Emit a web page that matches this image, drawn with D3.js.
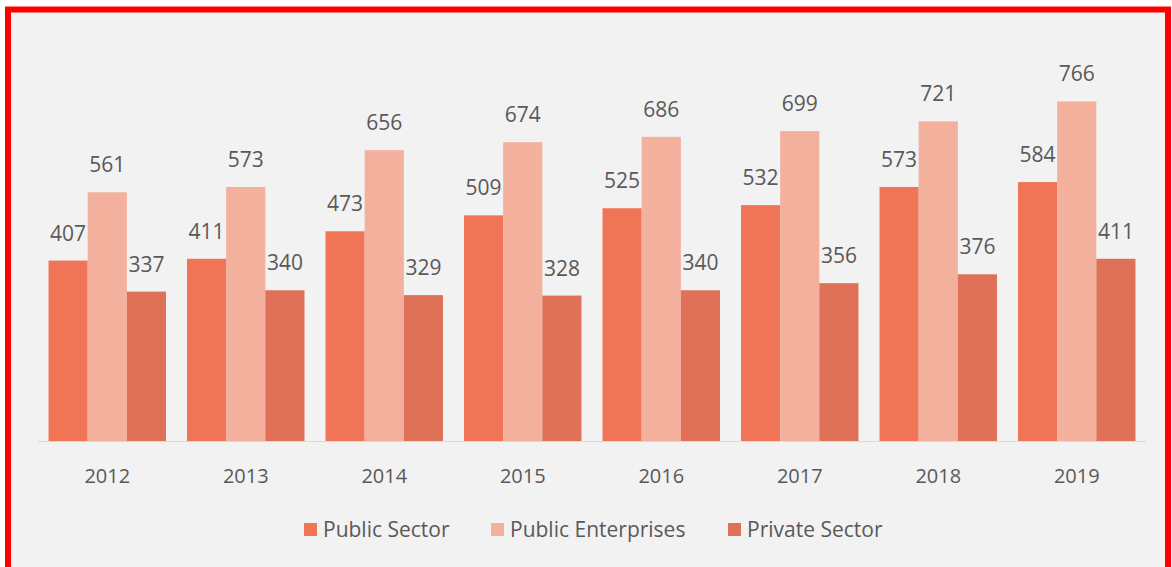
<!DOCTYPE html>
<html>
<head>
<meta charset="utf-8">
<script src="https://cdn.jsdelivr.net/npm/d3@7"></script>
<style>
  html, body { margin: 0; padding: 0; background: #ffffff; }
  svg { display: block; }
</style>
</head>
<body>
<svg id="chart" width="1172" height="567"></svg>
<script>
// Employment by sector, 2012–2019
const years = ["2012", "2013", "2014", "2015", "2016", "2017", "2018", "2019"];
const seriesNames = ["Public Sector", "Public Enterprises", "Private Sector"];
const publicSector = [407, 411, 473, 509, 525, 532, 573, 584];
const publicEnterprises = [561, 573, 656, 674, 686, 699, 721, 766];
const privateSector = [337, 340, 329, 328, 340, 356, 376, 411];
const seriesColors = ["#ef7556", "#f3b09c", "#df7159"];

const seriesValues = [publicSector, publicEnterprises, privateSector];

const svg = d3.select("#chart");

// Frame: grey panel with red outline (bottom edge runs off the canvas)
svg.append("rect").attr("x", 8).attr("y", 9.5).attr("width", 1160).attr("height", 570)
  .attr("fill", "#f2f2f2").attr("stroke", "#ff0000").attr("stroke-width", 6);

const plot = { left: 38, right: 1146, top: 40, bottom: 441 };
const font = "'Open Sans', sans-serif";
const textColor = "#595959";

const x0 = d3.scaleBand().domain(years)
  .range([plot.left, plot.right]).paddingInner(0.152).paddingOuter(0.076);
const x1 = d3.scaleBand().domain(seriesNames).range([0, x0.bandwidth()]).padding(0);
const y = d3.scaleLinear().domain([0, 900]).range([plot.bottom, plot.bottom - 399]);
const color = d3.scaleOrdinal().domain(seriesNames).range(seriesColors);

// Baseline
svg.append("line")
  .attr("x1", plot.left).attr("x2", plot.right)
  .attr("y1", y(0) + 0.5).attr("y2", y(0) + 0.5)
  .attr("stroke", "#d9d9d9").attr("stroke-width", 1);

// Bars and value labels, drawn series by series
seriesNames.forEach((name, si) => {
  const g = svg.append("g");
  const data = years.map((yr, i) => ({ year: yr, value: seriesValues[si][i] }));
  g.selectAll("rect").data(data).join("rect")
    .attr("x", d => x0(d.year) + x1(name))
    .attr("y", d => y(d.value))
    .attr("width", x1.bandwidth())
    .attr("height", d => y(0) - y(d.value))
    .attr("fill", color(name));
  g.selectAll("text").data(data).join("text")
    .attr("x", d => x0(d.year) + x1(name) + x1.bandwidth() / 2)
    .attr("y", d => y(d.value) - 20)
    .attr("text-anchor", "middle")
    .attr("font-family", font)
    .attr("font-size", 21)
    .attr("fill", textColor)
    .text(d => d.value);
});

// Category axis
const xAxis = svg.append("g").attr("transform", `translate(0,${y(0)})`)
  .call(d3.axisBottom(x0).tickSize(0).tickPadding(0));
xAxis.select(".domain").remove();
xAxis.selectAll("text")
  .attr("y", 42)
  .attr("dy", 0)
  .attr("font-family", font)
  .attr("font-size", 20)
  .attr("fill", textColor);

// Legend
const legendItems = [
  { name: seriesNames[0], x: 304 },
  { name: seriesNames[1], x: 491 },
  { name: seriesNames[2], x: 728 }
];
const legend = svg.append("g");
legendItems.forEach(it => {
  legend.append("rect").attr("x", it.x).attr("y", 523)
    .attr("width", 13).attr("height", 13).attr("fill", color(it.name));
  legend.append("text").attr("x", it.x + 19).attr("y", 537)
    .attr("font-family", font)
    .attr("font-size", 21).attr("fill", textColor)
    .text(it.name);
});
</script>
</body>
</html>
